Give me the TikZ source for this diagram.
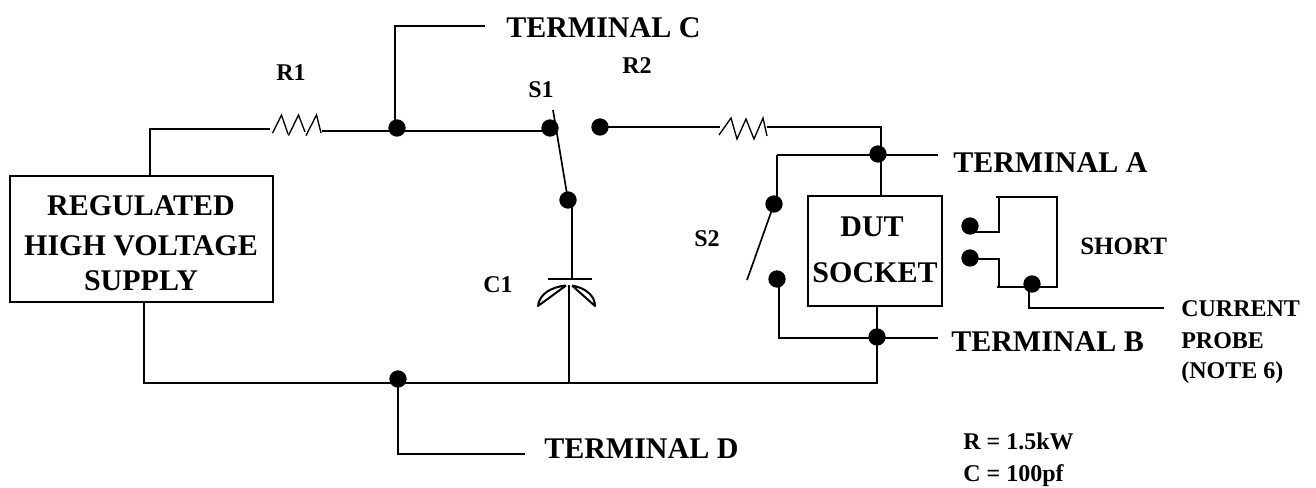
\documentclass[tikz,border=0pt]{standalone}
\usepackage{fontspec}
\setmainfont{Liberation Serif}
\usetikzlibrary{shapes.geometric}
\tikzset{
  wire/.style={line width=1.5pt,line cap=butt,line join=miter},
  thin wire/.style={line width=1.25pt},
  res wire/.style={line width=1pt},
  dot/.style={ellipse,fill=black,draw=none,minimum width=13pt,minimum height=13pt,inner sep=0pt},
  big/.style={inner sep=0pt,anchor=base west,font=\fontsize{22.5}{27}\selectfont\bfseries},
  mid/.style={inner sep=0pt,anchor=base west,font=\fontsize{18}{22}\selectfont\bfseries},
  box/.style={draw,line width=1.5pt,inner sep=0pt},
}
\begin{document}
\begin{tikzpicture}[x=0.75pt,y=-0.75pt]
\useasboundingbox (0,0) rectangle (1316,487);
% boxes
\node[box,minimum width=197.25pt,minimum height=94.5pt] (supply) at (141,239) {};
\node[box,minimum width=100.5pt,minimum height=82.5pt] (dut) at (875,251) {};
% dots
\node[dot] (dc) at (397,128) {};
\node[dot] (ds1a) at (550,128) {};
\node[dot] (ds1b) at (600,127) {};
\node[dot] (ds1c) at (568,200) {};
\node[dot] (dta) at (878,154) {};
\node[dot] (ds2a) at (774,204) {};
\node[dot] (ds2b) at (777,279) {};
\node[dot] (dtb) at (877,337) {};
\node[dot] (dtd) at (398,379) {};
\node[dot] (ds1) at (970,226) {};
\node[dot] (ds2) at (970,258) {};
\node[dot] (dsp) at (1032,284) {};
% coordinates
\coordinate (r1a) at (270,129);
\coordinate (r1b) at (322,130.7);
\coordinate (r2a) at (720,127);
\coordinate (r2b) at (767,127);
\coordinate (ca) at (571.5,279);
\coordinate (cb) at (569,285);
\coordinate (tc) at (485,26);
\coordinate (ta) at (938,155);
\coordinate (tb) at (938,338);
\coordinate (td) at (525,454);
\coordinate (cp) at (1164,308);
\coordinate (s1t) at (553,110);
\coordinate (s2e) at (747,280);
% resistors
\draw[res wire] (272.5,133) -- (281.5,115) -- (288,134);
\draw[res wire] (288.5,135.5) -- (298.5,115) -- (305,132);
\draw[res wire] (306,135.5) -- (316.5,115) -- (321,133);
\draw[res wire] (719,135) -- (731,118) -- (737,139) -- (746,119) -- (754,139) -- (763,118) -- (767,136);
% wiring
\draw[wire] (r1a) -- (150,129) -- (150,176);
\draw[wire] (r1b) -- (550,130.7);
\draw[wire] (395,128) -- (395,26) -- (tc);
\draw[wire] (ds1b.center) -- (r2a);
\draw[wire] (r2b) -- (881,127) -- (881,196);
\draw[wire] (777,155) -- (ta);
\draw[wire] (777,204) -- (777,155);
\draw[wire] (779,279) -- (779,338) -- (tb);
\draw[thin wire] (s1t) -- (ds1c.center);
\draw[thin wire] (ds2a.center) -- (s2e);
\draw[wire] (571.5,200) -- (ca);
\draw[wire] (548,279) -- (592,279);
\draw[wire] (cb) -- (569,382.5);
\draw[wire] (144,302) -- (144,382.5) -- (877,382.5) -- (877,306);
\draw[wire] (dtd.center) -- (398,454) -- (td);
% C1 curved plate
\draw[wire,line join=round] (566,285.5) -- (538,306) .. controls (539,295) and (550,287) .. (566,285.5);
\draw[wire,line join=round] (572,285.5) -- (595,306) .. controls (595,296) and (586,288) .. (572,285.5);
% short
\draw[wire] (975,232) -- (999,232) -- (999,197);
\draw[wire] (996,197) -- (1057,197) -- (1057,287) -- (997,287);
\draw[wire] (970,258.5) -- (999,258.5) -- (999,287);
\draw[wire] (1029,284) -- (1029,308) -- (cp);
% labels
\node[mid] (lr1) at (276,80) {R1};
\node[mid] (lr2) at (622,73) {R2};
\node[mid] (ls1) at (528,97) {S1};
\node[mid] (ls2) at (694,246) {S2};
\node[mid] (lc1) at (483,292) {C1};
\node[big] (ltc) at (506,37) {TERMINAL C};
\node[big] (lta) at (953,172) {TERMINAL A};
\node[big] (ltb) at (951,351) {TERMINAL B};
\node[big] (ltd) at (544,458) {TERMINAL D};
\node[big,anchor=base] (sup1) at (141,215) {REGULATED};
\node[big,anchor=base] (sup2) at (141,255) {HIGH VOLTAGE};
\node[big,anchor=base] (sup3) at (141,290) {SUPPLY};
\node[big,anchor=base] (dut1) at (872,236) {DUT};
\node[big,anchor=base] (dut2) at (875,282) {SOCKET};
\node[mid,font=\fontsize{18.75}{22}\selectfont\bfseries] (short) at (1080,254) {SHORT};
\node[mid] (p1) at (1181,316) {CURRENT};
\node[mid] (p2) at (1181,348) {PROBE};
\node[mid] (p3) at (1181,378) {(NOTE 6)};
\node[mid] (v1) at (963,449) {R = 1.5kW};
\node[mid] (v2) at (963,481) {C = 100pf};
\end{tikzpicture}
\end{document}
